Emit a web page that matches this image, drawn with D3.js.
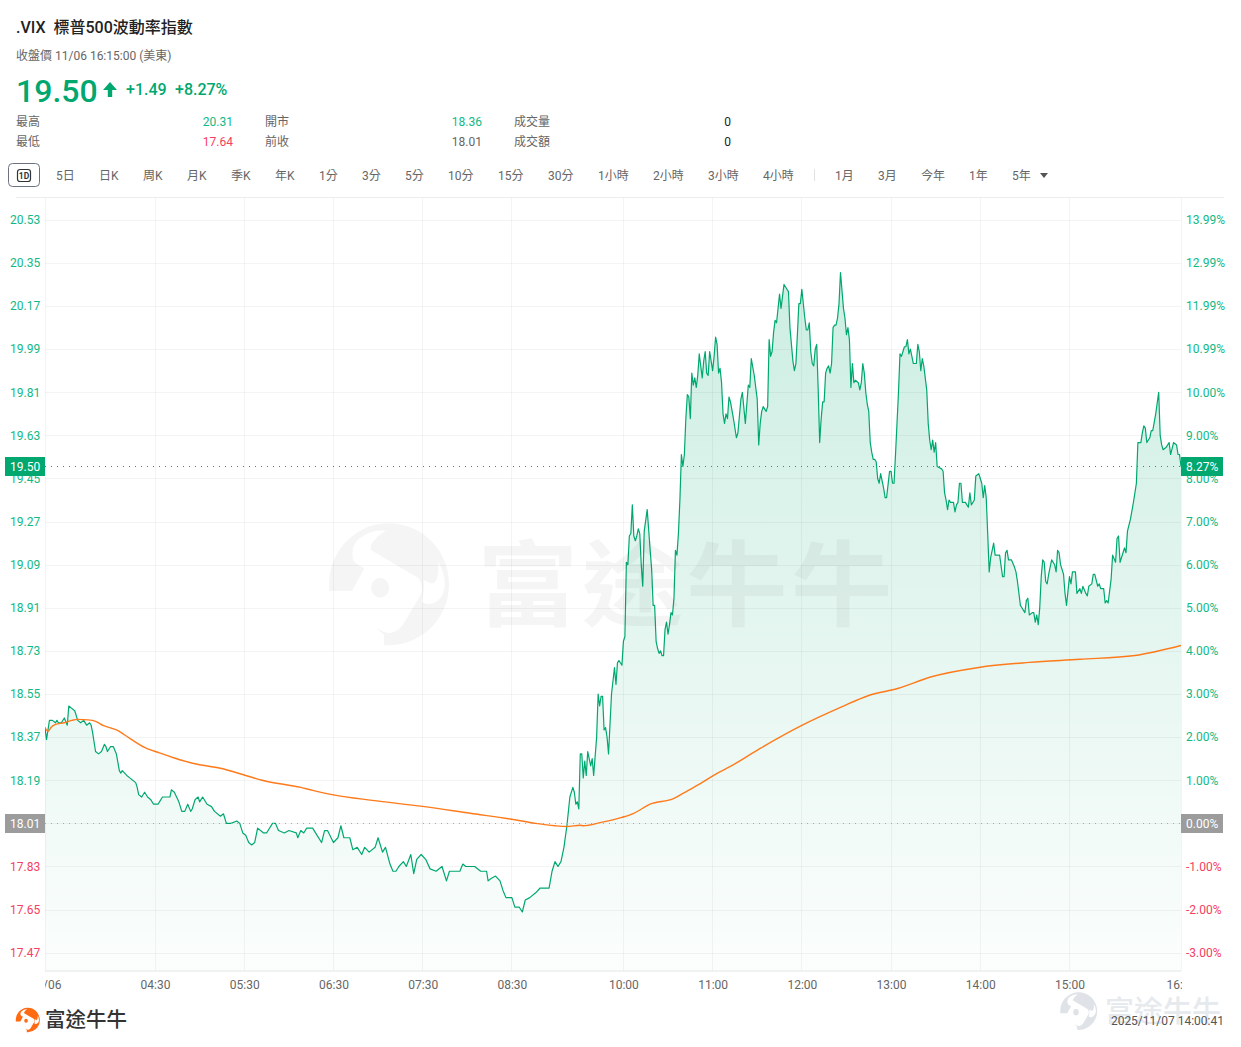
<!DOCTYPE html>
<html lang="zh-Hant">
<head>
<meta charset="utf-8">
<title>.VIX 標普500波動率指數</title>
<script src="https://cdn.jsdelivr.net/npm/d3@7"></script>
<style>
html,body{margin:0;padding:0;background:#fff}
svg{display:block}
text{font-family:Roboto,"Noto Sans CJK TC",sans-serif}
</style>
</head>
<body>
<svg id="chart" width="1241" height="1047"></svg>
<script>
// Quote summary
const symbol = ".VIX";
const indexName = "標普500波動率指數";
const statusLine = "收盤價 11/06 16:15:00 (美東)";
const lastPrice = 19.50;
const prevClose = 18.01;
const changeText = "+1.49";
const changePctText = "+8.27%";
const lastPctText = "8.27%";
const prevPctText = "0.00%";
const stampText = "2025/11/07 14:00:41";
const brandName = "富途牛牛";
const statRows = [
  ["最高", "20.31", "開市", "18.36", "成交量", "0"],
  ["最低", "17.64", "前收", "18.01", "成交額", "0"]
];
const periodTabs = ["5日","日K","周K","月K","季K","年K","1分","3分","5分","10分","15分","30分","1小時","2小時","3小時","4小時"];
const rangeTabs = ["1月","3月","今年","1年","5年"];

// Axis ticks
const priceTicks = [20.53,20.35,20.17,19.99,19.81,19.63,19.45,19.27,19.09,18.91,18.73,18.55,18.37,18.19,18.01,17.83,17.65,17.47];
const pctLabels = ["13.99%","12.99%","11.99%","10.99%","10.00%","9.00%","8.00%","7.00%","6.00%","5.00%","4.00%","3.00%","2.00%","1.00%","0.00%","-1.00%","-2.00%","-3.00%"];
const timeTickMinutes = [0,74,134,194,254,314,389,449,509,569,629,689,764];
const timeTickLabels = ["11/06","04:30","05:30","06:30","07:30","08:30","10:00","11:00","12:00","13:00","14:00","15:00","16:15"];

// Index level by trading minute (minutes counted from the session open, midmorning pause removed)
const priceSeries = [
[0,18.41],[1,18.36],[3,18.44],[5,18.44],[7,18.43],[8,18.44],[9,18.43],[11,18.43],[13,18.45],[15,18.42],
[16,18.50],[18,18.49],[20,18.48],[22,18.44],[24,18.43],[26,18.44],[28,18.42],[30,18.43],[31,18.42],[32,18.39],
[34,18.31],[36,18.30],[38,18.31],[40,18.34],[41,18.33],[42,18.31],[44,18.33],[46,18.33],[48,18.30],[50,18.23],
[51,18.22],[52,18.23],[55,18.21],[57,18.20],[61,18.18],[62,18.16],[63,18.13],[65,18.12],[67,18.14],[69,18.12],
[71,18.11],[73,18.09],[76,18.09],[77,18.10],[79,18.12],[84,18.12],[85,18.15],[87,18.14],[90,18.10],[92,18.06],
[94,18.06],[96,18.09],[98,18.06],[99,18.07],[101,18.11],[103,18.12],[104,18.10],[106,18.12],[109,18.09],[112,18.08],
[114,18.06],[118,18.04],[120,18.05],[122,18.01],[125,18.01],[129,18.02],[131,18.01],[133,17.97],[135,17.96],[137,17.93],
[139,17.92],[141,17.93],[143,17.99],[147,17.97],[149,17.97],[153,18.01],[155,18.01],[157,17.98],[161,17.97],[164,17.98],
[169,17.97],[170,17.95],[172,17.98],[174,17.97],[176,17.99],[180,17.99],[183,17.96],[186,17.93],[188,17.98],[190,17.98],
[194,17.93],[197,17.95],[199,18.00],[201,17.95],[205,17.95],[207,17.90],[210,17.91],[213,17.88],[215,17.91],[218,17.89],
[222,17.91],[224,17.95],[227,17.89],[229,17.91],[232,17.84],[234,17.81],[236,17.81],[238,17.83],[241,17.85],[243,17.83],
[246,17.88],[248,17.80],[250,17.86],[253,17.88],[256,17.86],[259,17.82],[263,17.81],[267,17.83],[270,17.77],[272,17.81],
[277,17.81],[279,17.81],[281,17.84],[283,17.83],[289,17.83],[293,17.81],[297,17.81],[298,17.77],[300,17.78],[303,17.79],
[306,17.77],[308,17.73],[310,17.70],[314,17.70],[316,17.66],[319,17.66],[321,17.64],[323,17.69],[326,17.70],[330,17.72],
[333,17.74],[336,17.74],[339,17.74],[341,17.81],[343,17.85],[345,17.83],[347,17.85],[349,17.91],[351,18.00],[353,18.12],
[355,18.16],[356,18.14],[357,18.09],[358,18.10],[359,18.07],[360,18.30],[361,18.30],[362,18.20],[363,18.27],[364,18.21],
[365,18.31],[367,18.25],[368,18.28],[369,18.21],[371,18.37],[372,18.55],[373,18.50],[374,18.54],[375,18.54],[376,18.40],
[377,18.41],[378,18.37],[379,18.30],[381,18.55],[383,18.66],[384,18.59],[385,18.68],[386,18.69],[388,18.67],[389,18.77],
[390,18.79],[391,19.10],[392,19.09],[393,19.21],[394,19.22],[395,19.34],[396,19.21],[397,19.19],[398,19.21],[399,19.24],
[400,19.22],[401,19.09],[402,19.00],[403,19.23],[405,19.32],[407,19.15],[408,19.07],[409,18.92],[410,18.92],[411,18.77],
[412,18.74],[413,18.72],[414,18.73],[415,18.71],[416,18.71],[417,18.82],[418,18.85],[419,18.80],[420,18.84],[421,18.89],
[422,18.88],[423,18.95],[424,19.15],[425,19.13],[426,19.22],[427,19.36],[428,19.55],[429,19.50],[430,19.55],[431,19.70],
[432,19.80],[433,19.79],[434,19.70],[435,19.89],[436,19.84],[437,19.87],[438,19.83],[439,19.88],[440,19.97],[442,19.87],
[443,19.94],[444,19.98],[445,19.89],[446,19.88],[447,19.98],[449,19.90],[450,19.96],[451,20.04],[452,20.01],[453,19.89],
[454,19.91],[455,19.85],[456,19.72],[457,19.68],[458,19.72],[459,19.70],[460,19.79],[461,19.77],[463,19.70],[465,19.62],
[466,19.64],[468,19.78],[469,19.81],[471,19.68],[473,19.84],[474,19.83],[475,19.95],[477,19.88],[479,19.78],[480,19.59],
[481,19.68],[482,19.73],[483,19.75],[485,19.73],[486,19.75],[487,20.03],[488,19.96],[489,19.98],[490,20.06],[491,20.11],
[492,20.10],[494,20.22],[495,20.16],[496,20.21],[497,20.26],[499,20.24],[500,20.23],[501,20.08],[503,19.94],[504,19.90],
[505,19.93],[506,20.05],[507,20.18],[508,20.18],[509,20.24],[511,20.12],[512,20.07],[513,20.07],[514,20.10],[515,19.98],
[516,19.93],[517,19.92],[518,19.99],[519,20.01],[520,19.82],[521,19.60],[522,19.70],[523,19.77],[524,19.77],[525,19.89],
[526,19.91],[527,19.92],[528,19.89],[529,19.93],[530,20.08],[531,20.09],[532,20.09],[533,20.12],[534,20.18],[535,20.31],
[537,20.16],[538,20.12],[539,20.05],[540,20.08],[541,20.03],[542,19.83],[543,19.93],[544,19.85],[545,19.86],[547,19.85],
[548,19.82],[549,19.85],[550,19.93],[551,19.89],[552,19.81],[553,19.76],[554,19.73],[555,19.60],[556,19.56],[557,19.53],
[558,19.53],[559,19.52],[560,19.45],[561,19.43],[562,19.47],[564,19.41],[565,19.37],[566,19.37],[568,19.48],[569,19.48],
[570,19.43],[571,19.43],[572,19.55],[574,19.81],[575,19.97],[576,19.96],[578,20.00],[579,20.00],[580,20.03],[581,19.97],
[582,19.99],[584,19.93],[586,19.93],[587,20.01],[588,19.98],[589,19.90],[590,19.95],[591,19.92],[593,19.82],[594,19.68],
[595,19.61],[596,19.57],[597,19.61],[598,19.56],[599,19.60],[600,19.50],[603,19.49],[604,19.48],[605,19.39],[606,19.36],
[607,19.32],[608,19.36],[609,19.35],[611,19.35],[612,19.31],[613,19.34],[614,19.35],[615,19.43],[616,19.43],[617,19.35],
[619,19.35],[620,19.34],[621,19.33],[622,19.39],[623,19.34],[625,19.36],[626,19.46],[628,19.47],[630,19.43],[631,19.37],
[632,19.42],[633,19.37],[634,19.22],[635,19.06],[636,19.12],[638,19.18],[639,19.13],[642,19.13],[644,19.04],[645,19.04],
[646,19.14],[647,19.15],[648,19.11],[650,19.11],[652,19.08],[653,19.06],[654,19.02],[656,18.92],[657,18.91],[659,18.89],
[660,18.94],[661,18.95],[662,18.88],[664,18.89],[665,18.89],[666,18.85],[667,18.88],[668,18.84],[669,18.91],[670,19.04],
[671,19.11],[672,19.10],[673,19.02],[674,19.01],[675,19.05],[677,19.11],[679,19.09],[680,19.06],[681,19.15],[682,19.14],
[683,19.09],[685,19.05],[686,18.97],[687,18.92],[689,19.04],[690,19.01],[691,19.06],[693,19.06],[694,18.97],[696,18.99],
[697,18.97],[698,19.00],[700,18.97],[701,18.96],[702,19.00],[704,19.01],[705,19.05],[706,19.05],[708,19.00],[709,19.01],
[710,18.99],[712,18.99],[713,18.93],[714,18.94],[715,18.93],[717,19.03],[718,19.13],[720,19.10],[721,19.20],[722,19.21],
[723,19.10],[725,19.14],[726,19.16],[727,19.14],[728,19.23],[730,19.28],[732,19.35],[734,19.43],[735,19.60],[737,19.60],
[738,19.64],[739,19.67],[740,19.66],[741,19.60],[743,19.62],[744,19.65],[745,19.65],[747,19.72],[749,19.81],[750,19.63],
[751,19.59],[752,19.57],[754,19.58],[756,19.60],[757,19.55],[759,19.60],[761,19.59],[762,19.55],[763,19.55],[764,19.50]
];

// Session average line, same minute index
const averageSeries = [
[0,18.41],[2,18.394],[4,18.41],[7,18.423],[13,18.43],[18,18.44],[22,18.444],[29,18.442],[34,18.436],[39,18.419],
[48,18.40],[57,18.365],[67,18.327],[77,18.304],[87,18.283],[100,18.26],[118,18.24],[135,18.21],[146,18.19],[172,18.16],
[180,18.148],[194,18.129],[220,18.106],[254,18.081],[286,18.052],[314,18.027],[330,18.01],[343,18.00],[351,17.997],[360,18.002],
[362,18.00],[374,18.014],[388,18.035],[396,18.052],[407,18.09],[423,18.114],[429,18.135],[441,18.177],[452,18.219],[461,18.248],
[481,18.323],[509,18.419],[535,18.494],[554,18.544],[574,18.574],[595,18.62],[628,18.661],[662,18.682],[696,18.695],[733,18.711],[764,18.753]
];

const colors = {
  up: "#00a870", tick: "#12b886", down: "#f5405f", neutral: "#999999",
  avg: "#ff7a1a", text: "#222222", muted: "#666666", soft: "#777777"
};

const svg = d3.select("#chart");
const plot = {left: 45, right: 1181, top: 197.5, bottom: 971};

const x = d3.scaleLinear().domain([0, 764]).range([plot.left, plot.right]);
const y = d3.scaleLinear().domain([17.47, 20.53]).range([952.7, 219.8]);

const defs = svg.append("defs");
const grad = defs.append("linearGradient").attr("id", "areaFill")
  .attr("gradientUnits", "userSpaceOnUse")
  .attr("x1", 0).attr("x2", 0).attr("y1", y(20.31)).attr("y2", plot.bottom);
grad.append("stop").attr("offset", 0).attr("stop-color", colors.up).attr("stop-opacity", 0.2);
grad.append("stop").attr("offset", 1).attr("stop-color", colors.up).attr("stop-opacity", 0.015);
defs.append("clipPath").attr("id", "plotClip").append("rect")
  .attr("x", plot.left).attr("y", plot.top).attr("width", plot.right - plot.left).attr("height", 830);

// Header
const header = svg.append("g");
header.append("text").attr("x", 16).attr("y", 33).attr("font-size", 16).attr("font-weight", 500)
  .attr("fill", colors.text).attr("xml:space", "preserve").text(symbol + "  " + indexName);
header.append("text").attr("x", 16).attr("y", 60).attr("font-size", 12).attr("fill", colors.muted).text(statusLine);
header.append("text").attr("x", 16).attr("y", 102).attr("font-size", 32).attr("font-weight", 500)
  .attr("fill", colors.up).text(lastPrice.toFixed(2));
header.append("path").attr("fill", colors.up)
  .attr("d", d3.line()([[110,82],[117,90],[112.2,90],[112.2,97],[107.8,97],[107.8,90],[103,90]]) + "Z");
header.append("text").attr("x", 126).attr("y", 95).attr("font-size", 16).attr("font-weight", 500)
  .attr("fill", colors.up).text(changeText);
header.append("text").attr("x", 175).attr("y", 95).attr("font-size", 16).attr("font-weight", 500)
  .attr("fill", colors.up).text(changePctText);

statRows.forEach((row, i) => {
  const by = 126 + i * 20;
  const g = header.append("g").attr("font-size", 12);
  g.append("text").attr("x", 16).attr("y", by).attr("fill", colors.muted).text(row[0]);
  g.append("text").attr("x", 233).attr("y", by).attr("text-anchor", "end")
    .attr("fill", i === 0 ? colors.tick : colors.down).text(row[1]);
  g.append("text").attr("x", 265).attr("y", by).attr("fill", colors.muted).text(row[2]);
  g.append("text").attr("x", 482).attr("y", by).attr("text-anchor", "end")
    .attr("fill", i === 0 ? colors.tick : colors.muted).text(row[3]);
  g.append("text").attr("x", 514).attr("y", by).attr("fill", colors.muted).text(row[4]);
  g.append("text").attr("x", 731).attr("y", by).attr("text-anchor", "end").attr("fill", colors.text).text(row[5]);
});

// Period selector
const tabs = svg.append("g").attr("font-size", 12).attr("fill", colors.muted);
tabs.append("rect").attr("x", 8.5).attr("y", 163.5).attr("width", 31).attr("height", 23).attr("rx", 4)
  .attr("fill", "none").attr("stroke", "#6b7280");
tabs.append("rect").attr("x", 17.5).attr("y", 169.5).attr("width", 13).attr("height", 12).attr("rx", 2.5)
  .attr("fill", "none").attr("stroke", "#333").attr("stroke-width", 1.2);
tabs.append("text").attr("x", 24).attr("y", 178.6).attr("text-anchor", "middle").attr("font-size", 8.5)
  .attr("font-weight", 700).attr("fill", "#333").text("1D");
const periodX = [56,99,143,187,231,275,319,362,405,448,498,548,598,653,708,763];
const rangeX = [835,878,921,969,1012];
tabs.selectAll("text.period").data(periodTabs).join("text").attr("class", "period")
  .attr("x", (d, i) => periodX[i]).attr("y", 180).text(d => d);
tabs.selectAll("text.range").data(rangeTabs).join("text").attr("class", "range")
  .attr("x", (d, i) => rangeX[i]).attr("y", 180).text(d => d);
tabs.append("line").attr("x1", 814.5).attr("x2", 814.5).attr("y1", 169).attr("y2", 181).attr("stroke", "#e2e2e2");
tabs.append("path").attr("fill", "#555").attr("d", d3.line()([[1040,173],[1048,173],[1044,178]]) + "Z");

// Price area underneath the grid
const area = d3.area().x(d => x(d[0])).y0(plot.bottom).y1(d => y(d[1]));
const line = d3.line().x(d => x(d[0])).y(d => y(d[1]));
const avgLine = d3.line().x(d => x(d[0])).y(d => y(d[1])).curve(d3.curveMonotoneX);

const body = svg.append("g").attr("clip-path", "url(#plotClip)");
body.append("path").datum(priceSeries).attr("d", area).attr("fill", "url(#areaFill)");

// Grid
const grid = svg.append("g").attr("stroke", "#000").attr("stroke-opacity", 0.045).attr("shape-rendering", "crispEdges");
grid.selectAll("line.h").data(priceTicks).join("line").attr("class", "h")
  .attr("x1", plot.left).attr("x2", plot.right)
  .attr("y1", d => Math.round(y(d)) + 0.5).attr("y2", d => Math.round(y(d)) + 0.5);
grid.selectAll("line.v").data(timeTickMinutes).join("line").attr("class", "v")
  .attr("x1", d => x(d)).attr("x2", d => x(d)).attr("y1", plot.top).attr("y2", plot.bottom);
svg.append("line").attr("x1", 16).attr("x2", 1224).attr("y1", plot.top).attr("y2", plot.top)
  .attr("stroke", "#ececec");
svg.append("line").attr("x1", plot.left).attr("x2", plot.right).attr("y1", plot.bottom).attr("y2", plot.bottom)
  .attr("stroke", "#e4e4e4");

// Brand mark, drawn around a unit of 60 so it can be reused at any size
const markPath = "M-60.6,7A60,61 0 1 1 -6,61L-6,51L-14.4,43.3Q-4,50 1.4,48.7Q8,47 12.7,41L31.5,9.3Q33,0 28.5,-5.7L-19.2,-34L-19.2,-39Q-14,-48 -4.2,-53.3Q-16,-54 -25,-49Q-35,-44 -37,-35.7Q-39,-25 -34.3,-20.7L-25.6,-15.7L-38,7Z" +
  "M48.4,-22.3Q49,-10 46.5,-4Q44,0 41,-0.7L33.4,-4Q35,5 31.5,17.7Q37,21 42.8,19.3Q52,16 54,6Q57,-6 48.4,-22.3Z";
function drawMark(parent, cx, cy, r, fill, opacity) {
  const g = parent.append("g").attr("transform", `translate(${cx},${cy}) scale(${r / 60})`)
    .attr("fill", fill).attr("fill-opacity", opacity);
  g.append("path").attr("d", markPath).attr("fill-rule", "evenodd");
  g.append("ellipse").attr("cx", -9.8).attr("cy", 3.7).attr("rx", 9).attr("ry", 10);
}

// Lines
body.append("path").datum(priceSeries).attr("d", line).attr("fill", "none")
  .attr("stroke", colors.up).attr("stroke-width", 1.2).attr("stroke-linejoin", "round");
body.append("path").datum(averageSeries).attr("d", avgLine).attr("fill", "none")
  .attr("stroke", colors.avg).attr("stroke-width", 1.4);

// Reference levels
[[lastPrice, colors.up], [prevClose, "#aaaaaa"]].forEach(([v, c]) => {
  svg.append("line").attr("x1", plot.left).attr("x2", plot.right)
    .attr("y1", Math.round(y(v)) + 0.5).attr("y2", Math.round(y(v)) + 0.5)
    .attr("stroke", c).attr("stroke-dasharray", "1 5");
});

// Faint wordmark across the plot
const wm = svg.append("g");
drawMark(wm, 390, 584, 60, "#000", 0.04);
wm.append("text").attr("transform", "translate(477,618.5) scale(1.09,1)").attr("font-size", 93).attr("font-weight", 700)
  .attr("letter-spacing", 3).attr("fill", "#000").attr("fill-opacity", 0.04).text(brandName);

// Axes
const tickColor = v => v < prevClose ? colors.down : colors.tick;
const leftAxis = svg.append("g")
  .call(d3.axisLeft(y).tickValues(priceTicks).tickSize(0).tickFormat(d => d.toFixed(2)));
const rightAxis = svg.append("g")
  .call(d3.axisRight(y).tickValues(priceTicks).tickSize(0).tickFormat((d, i) => pctLabels[i]));
[leftAxis, rightAxis].forEach(a => {
  a.select(".domain").remove();
  a.attr("font-family", null).attr("font-size", null);
  a.selectAll("text").attr("font-size", 12).attr("text-anchor", "start").attr("fill", d => tickColor(d));
});
leftAxis.selectAll("text").attr("x", 10);
rightAxis.selectAll("text").attr("x", 1186);

const timeAxis = svg.append("g").attr("transform", `translate(0,${plot.bottom})`)
  .attr("clip-path", "url(#timeClip)")
  .call(d3.axisBottom(x).tickValues(timeTickMinutes).tickSize(0).tickFormat((d, i) => timeTickLabels[i]));
defs.append("clipPath").attr("id", "timeClip").append("rect")
  .attr("x", plot.left).attr("y", 0).attr("width", plot.right - plot.left + 1).attr("height", 30);
timeAxis.select(".domain").remove();
timeAxis.attr("font-family", null).attr("font-size", null);
timeAxis.selectAll("text").attr("font-size", 12).attr("fill", colors.muted).attr("y", 9);

// Value tags at both ends of the reference levels
function tag(bx, bw, v, fill, label) {
  const cy = Math.round(y(v)) + 0.5;
  svg.append("rect").attr("x", bx).attr("y", cy - 9.5).attr("width", bw).attr("height", 19).attr("fill", fill);
  svg.append("text").attr("x", bx + 5).attr("y", cy + 4.2).attr("font-size", 12).attr("fill", "#fff").text(label);
}
tag(5, 40, lastPrice, colors.up, lastPrice.toFixed(2));
tag(1181, 42, lastPrice, colors.up, lastPctText);
tag(5, 40, prevClose, "#9c9c9c", prevClose.toFixed(2));
tag(1181, 42, prevClose, "#9c9c9c", prevPctText);

// Footer
drawMark(svg, 28, 1020, 12, "#ff6a13", 1);
svg.append("text").attr("x", 45).attr("y", 1027).attr("font-size", 20.5).attr("font-weight", 500)
  .attr("fill", "#333").text(brandName);
drawMark(svg, 1079, 1011, 18.5, "#dfe3e8", 1);
svg.append("text").attr("x", 1105).attr("y", 1022).attr("font-size", 29).attr("font-weight", 500)
  .attr("fill", "#e6e9ed").text(brandName);
svg.append("text").attr("x", 1224).attr("y", 1025).attr("text-anchor", "end").attr("font-size", 12)
  .attr("fill", "#555").text(stampText);
</script>
</body>
</html>
